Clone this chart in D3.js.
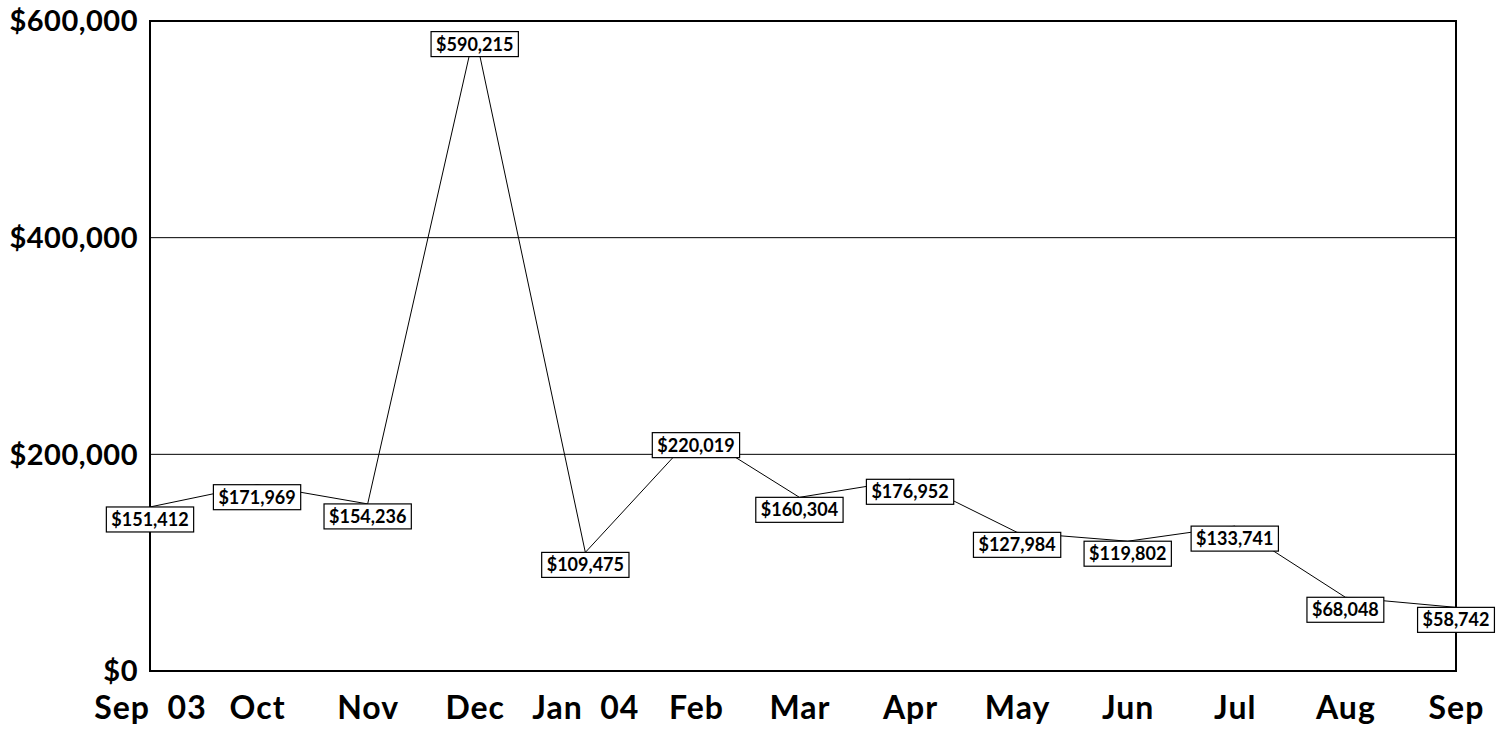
<!DOCTYPE html>
<html>
<head>
<meta charset="utf-8">
<script src="https://cdn.jsdelivr.net/npm/d3@7"></script>
<style>
  html, body { margin: 0; padding: 0; background: #fff; }
  svg { display: block; font-family: Lato, "Open Sans", sans-serif; font-weight: 700; }
  .tick text { white-space: pre; }
</style>
</head>
<body>
<svg id="chart" width="1505" height="732"></svg>
<script>
// Monthly sales, first of each month, Sep 2003 – Sep 2004
const months = ["2003-09-01", "2003-10-01", "2003-11-01", "2003-12-01", "2004-01-01",
                "2004-02-01", "2004-03-01", "2004-04-01", "2004-05-01", "2004-06-01",
                "2004-07-01", "2004-08-01", "2004-09-01"];
const sales = [151412, 171969, 154236, 590215, 109475, 220019, 160304,
               176952, 127984, 119802, 133741, 68048, 58742];
const monthLabels = ["Sep  03", "Oct", "Nov", "Dec", "Jan  04", "Feb", "Mar",
                     "Apr", "May", "Jun", "Jul", "Aug", "Sep"];
const yTicks = [0, 200000, 400000, 600000];
const gridValues = [200000, 400000];

const W = 1505, H = 732;
const margin = { top: 21, right: 49, bottom: 61, left: 150 };
const innerW = W - margin.left - margin.right;
const innerH = H - margin.top - margin.bottom;

const dates = months.map(d => new Date(d + "T00:00:00Z"));
const points = dates.map((d, i) => ({ date: d, value: sales[i] }));

const svg = d3.select("#chart");
const g = svg.append("g").attr("transform", `translate(${margin.left},${margin.top})`);

const x = d3.scaleUtc().domain(d3.extent(dates)).range([0, innerW]);
const y = d3.scaleLinear().domain([0, 600000]).range([innerH, 0]);

const money = v => "$" + d3.format(",")(v);

// horizontal gridlines
g.selectAll("line.grid")
  .data(gridValues)
  .join("line")
  .attr("class", "grid")
  .attr("x1", 0).attr("x2", innerW)
  .attr("y1", d => y(d)).attr("y2", d => y(d))
  .attr("stroke", "#000").attr("stroke-width", 1);

// y axis labels
const yAxis = d3.axisLeft(y).tickValues(yTicks).tickFormat(money).tickSize(0).tickPadding(12);
const yg = g.append("g").call(yAxis);
yg.select(".domain").remove();
yg.selectAll("text")
  .attr("font-size", 29).attr("font-family", "Lato, sans-serif").attr("font-weight", 700)
  .attr("letter-spacing", 0.5)
  .attr("fill", "#000").attr("dy", "0.34em");

// x axis labels
const xAxis = d3.axisBottom(x).tickValues(dates)
  .tickFormat((d, i) => monthLabels[i]).tickSize(0).tickPadding(25);
const xg = g.append("g").attr("transform", `translate(0,${innerH})`).call(xAxis);
xg.select(".domain").remove();
xg.selectAll("text")
  .attr("font-size", 32).attr("font-family", "Lato, sans-serif").attr("font-weight", 700)
  .attr("letter-spacing", 1)
  .attr("fill", "#000").attr("dy", "0.71em");

// plot frame
g.append("rect")
  .attr("x", 0).attr("y", 0).attr("width", innerW).attr("height", innerH)
  .attr("fill", "none").attr("stroke", "#000").attr("stroke-width", 2);

// sales line
const line = d3.line().x(d => x(d.date)).y(d => y(d.value));
g.append("path")
  .datum(points)
  .attr("d", line)
  .attr("fill", "none")
  .attr("stroke", "#000")
  .attr("stroke-width", 1);

// value labels: boxed, hanging below each point
const boxH = 25, padX = 5;
const labels = g.selectAll("g.label")
  .data(points)
  .join("g")
  .attr("class", "label")
  .attr("transform", d => `translate(${x(d.date)},${y(d.value)})`);

labels.append("rect").attr("fill", "#fff").attr("stroke", "#000").attr("stroke-width", 1.2);
labels.append("text")
  .attr("text-anchor", "middle")
  .attr("y", boxH / 2)
  .attr("dy", "0.36em")
  .attr("font-size", 18)
  .attr("fill", "#000")
  .text(d => money(d.value));

labels.each(function () {
  const t = d3.select(this).select("text").node().getBBox();
  d3.select(this).select("rect")
    .attr("x", -t.width / 2 - padX)
    .attr("y", 0)
    .attr("width", t.width + 2 * padX)
    .attr("height", boxH);
});
</script>
</body>
</html>
